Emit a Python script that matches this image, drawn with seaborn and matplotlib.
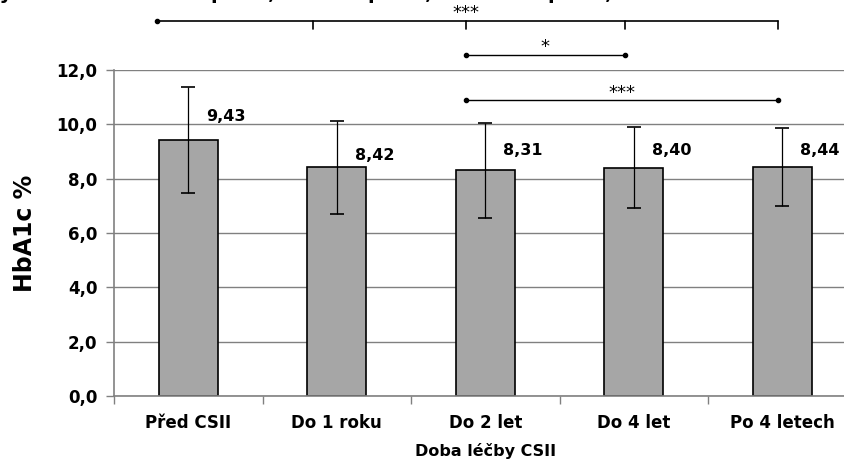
import numpy as np
import pandas as pd
import matplotlib
matplotlib.use("Agg")
import matplotlib.pyplot as plt
import seaborn as sns

# data
categories = ["Před CSII", "Do 1 roku", "Do 2 let", "Do 4 let", "Po 4 letech"]
hba1c_mean = [9.43, 8.42, 8.31, 8.40, 8.44]
hba1c_sd = [1.95, 1.72, 1.74, 1.49, 1.44]
yticks = [0, 2, 4, 6, 8, 10, 12]
p_levels = ["*", "**", "***"]
p_texts = ["p < 0,05", "p < 0,01", "p < 0,001"]

# layout of labels / brackets (as placed in the original)
label_dy = [0.84, 0.45, 0.71, 0.62, 0.58]
top_bracket_x = [-0.21, 0.84, 1.87, 2.94, 3.97]
sig_pairs = [(1.87, 2.94, 12.57, "*"), (1.87, 3.97, 10.88, "***")]
p_text_px = [211, 368, 548]

sns.set_theme(style="white")
plt.rcParams['font.family'] = ['DejaVu Sans']
plt.rcParams['font.weight'] = 'bold'
plt.rcParams['text.color'] = 'black'
plt.rcParams['axes.labelcolor'] = 'black'

df = pd.DataFrame({"kat": categories, "hba1c": hba1c_mean})

fig = plt.figure(figsize=(8.45, 4.62), dpi=100)
ax = fig.add_axes([114 / 845, 66 / 462, 742.5 / 845, 326 / 462])

sns.barplot(data=df, x="kat", y="hba1c", color="#a6a6a6", edgecolor="black",
            linewidth=1.2, width=0.40, saturation=1, ax=ax, errorbar=None)
ax.errorbar(np.arange(len(categories)), hba1c_mean, yerr=hba1c_sd, fmt="none",
            ecolor="black", elinewidth=0.9, capsize=5, capthick=1.2, zorder=5)

for i, v in enumerate(hba1c_mean):
    ax.text(i + 0.12, v + label_dy[i], f"{v:.2f}".replace(".", ","), ha="left", va="center",
            fontsize=11.5, fontweight="bold", color="black")

ax.set_xlim(-0.5, len(categories) - 0.5)
ax.set_ylim(0, 12)
ax.set_yticks(yticks)
ax.set_yticklabels([f"{t:.1f}".replace(".", ",") for t in yticks],
                   fontsize=12, fontweight="bold")
ax.set_xticks(range(len(categories)))
ax.set_xticklabels(categories, fontsize=12, fontweight="bold")
ax.set_xticks(np.arange(-0.5, len(categories)), minor=True)
ax.tick_params(axis="x", which="major", length=0, pad=13, labelcolor="black")
ax.tick_params(axis="x", which="minor", length=6, width=1, color="#808080", direction="out", bottom=True)
ax.tick_params(axis="y", length=6, width=1, color="#808080", direction="out", left=True, pad=6,
               labelcolor="black")

ax.yaxis.grid(True, color="#808080", linewidth=1)
ax.set_axisbelow(True)
for s in ["top", "right"]:
    ax.spines[s].set_visible(False)
for s in ["left", "bottom"]:
    ax.spines[s].set_color("#808080")
    ax.spines[s].set_linewidth(1.2)

ax.set_xlabel("Doba léčby CSII", fontsize=11.5, fontweight="bold", labelpad=8)
ax.set_ylabel("HbA1c %", fontsize=17, fontweight="heavy", labelpad=14)

# top bracket with ticks
ax.plot([top_bracket_x[0], top_bracket_x[-1]], [13.81, 13.81], color="black", lw=1.2, clip_on=False)
ax.plot([top_bracket_x[0]], [13.81], marker="o", ms=3, color="black", clip_on=False)
for bx in top_bracket_x[1:]:
    ax.plot([bx, bx], [13.81, 13.5], color="black", lw=1.2, clip_on=False)
ax.text(top_bracket_x[2], 13.78, "***", ha="center", va="bottom", fontsize=13,
        fontweight="normal", clip_on=False)

for x0, x1, y, lab in sig_pairs:
    ax.plot([x0, x1], [y, y], color="black", lw=1, marker="o", ms=3, clip_on=False)
    ax.text((x0 + x1) / 2, y - 0.05, lab, ha="center", va="bottom", fontsize=13,
            fontweight="normal", clip_on=False)

# legend line of significance levels, clipped by the top edge as in the original
base_y = 1.0 + 1 / 462
fig.text(12 / 845, base_y, "Statisticky významné rozdíly", ha="right", va="baseline",
         fontsize=14, fontweight="bold")
for px, stars, ptxt in zip(p_text_px, p_levels, p_texts):
    fig.text((px - 6) / 845, base_y, stars, ha="right", va="baseline", fontsize=14, fontweight="bold")
    fig.text(px / 845, base_y, ptxt, ha="left", va="baseline", fontsize=14, fontweight="bold")

fig.savefig("out.png", dpi=100)
